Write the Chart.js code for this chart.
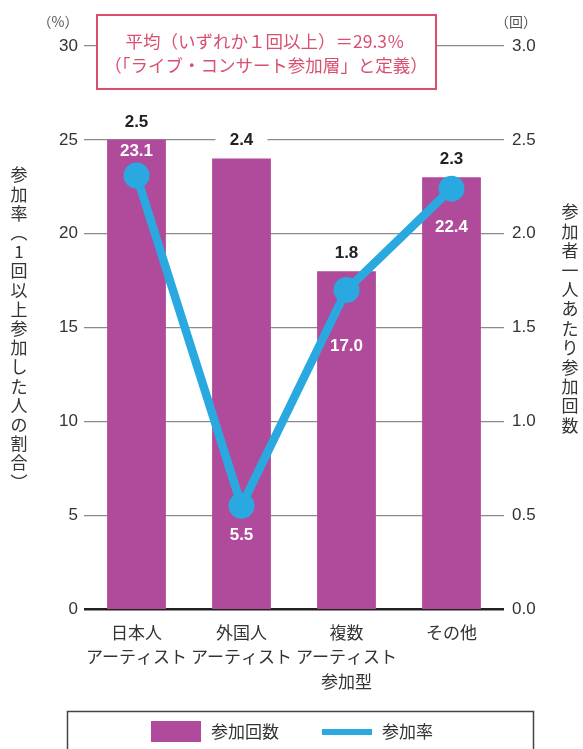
<!DOCTYPE html>
<html>
<head>
<meta charset="utf-8">
<script src="https://cdn.jsdelivr.net/npm/chart.js@4"></script>
<style>
    html, body { margin: 0; padding: 0; background: #fff; }
    #wrap { width: 583px; height: 749px; position: relative; }
</style>
</head>
<body>
<div id="wrap"><canvas id="chart" width="583" height="749"></canvas></div>
<script>
// data
const categories = [['日本人', 'アーティスト'], ['外国人', 'アーティスト'], ['複数', 'アーティスト', '参加型'], ['その他']];
const countValues = [2.5, 2.4, 1.8, 2.3];      // 参加回数 (right axis, 回)
const rateValues = [23.1, 5.5, 17.0, 22.4];    // 参加率 (left axis, %)
const rateTicks = [0, 5, 10, 15, 20, 25, 30];
const countTicks = [0, 0.5, 1.0, 1.5, 2.0, 2.5, 3.0];
const noteLines = ['平均（いずれか１回以上）＝29.3％', '（「ライブ・コンサート参加層」と定義）'];
const leftTitle = '参加率（1回以上参加した人の割合）';
const rightTitle = '参加者一人あたり参加回数';

const PURPLE = '#b04a9a';
const BLUE = '#29a9e0';
const PINK = '#d9506f';
const TEXT = '#333';
const FONT = '"Liberation Sans", "Noto Sans CJK JP", sans-serif';
const JFONT = '"Noto Sans CJK JP", sans-serif';

// offsets for the white rate labels relative to each point
const rateLabelOffset = [-24, 30, 56, 39];

// Draw vertical Japanese text, one glyph per step
function drawVertical(ctx, text, x, y, step) {
    const vert = { '（': '︵', '）': '︶' };
    ctx.save();
    ctx.textAlign = 'center';
    ctx.textBaseline = 'middle';
    [...text].forEach((ch, i) => {
        ctx.fillText(vert[ch] || ch, x, y + i * step);
    });
    ctx.restore();
}

const decoPlugin = {
    id: 'deco',
    beforeDatasetsDraw(chart) {
        const ctx = chart.ctx;
        const meta = chart.getDatasetMeta(0);
        ctx.save();
        ctx.fillStyle = '#fff';
        meta.data.forEach(bar => {
            ctx.fillRect(bar.x - 26, bar.y - 30, 52, 24);
        });
        ctx.restore();
    },
    afterDraw(chart) {
        const ctx = chart.ctx;
        const barMeta = chart.getDatasetMeta(0);
        const lineMeta = chart.getDatasetMeta(1);

        // bar value labels
        ctx.save();
        ctx.font = 'bold 17px ' + FONT;
        ctx.fillStyle = '#222';
        ctx.textAlign = 'center';
        ctx.textBaseline = 'middle';
        barMeta.data.forEach((bar, i) => {
            ctx.fillText(countValues[i].toFixed(1), bar.x, bar.y - 18);
        });

        // rate labels
        ctx.fillStyle = '#fff';
        lineMeta.data.forEach((pt, i) => {
            ctx.fillText(rateValues[i].toFixed(1), pt.x, pt.y + rateLabelOffset[i]);
        });
        ctx.restore();

        // note box
        ctx.save();
        ctx.fillStyle = '#fff';
        ctx.fillRect(97, 15, 339, 74);
        ctx.strokeStyle = PINK;
        ctx.lineWidth = 2;
        ctx.strokeRect(97, 15, 339, 74);
        ctx.fillStyle = PINK;
        ctx.font = '17.5px ' + JFONT;
        ctx.textAlign = 'center';
        ctx.textBaseline = 'middle';
        ctx.fillText(noteLines[0], 265, 41);
        ctx.fillText(noteLines[1], 266, 65);
        ctx.restore();

        // units
        ctx.save();
        ctx.fillStyle = '#555';
        ctx.font = '14px ' + JFONT;
        ctx.textAlign = 'center';
        ctx.textBaseline = 'middle';
        ctx.fillText('（%）', 58, 22);
        ctx.fillText('（回）', 516, 22);
        ctx.restore();

        // axis titles
        ctx.save();
        ctx.fillStyle = TEXT;
        ctx.font = '17px ' + JFONT;
        drawVertical(ctx, leftTitle, 19, 175, 19.2);
        drawVertical(ctx, rightTitle, 570, 212, 19.4);
        ctx.restore();

        // legend
        ctx.save();
        ctx.strokeStyle = '#444';
        ctx.lineWidth = 1.5;
        ctx.beginPath();
        ctx.moveTo(67.5, 760);
        ctx.lineTo(67.5, 711.5);
        ctx.lineTo(533.5, 711.5);
        ctx.lineTo(533.5, 760);
        ctx.stroke();
        ctx.fillStyle = PURPLE;
        ctx.fillRect(151, 721, 50, 21);
        ctx.fillStyle = BLUE;
        ctx.fillRect(322, 729, 50, 6);
        ctx.fillStyle = TEXT;
        ctx.font = '17px ' + JFONT;
        ctx.textBaseline = 'middle';
        ctx.fillText('参加回数', 211, 732);
        ctx.fillText('参加率', 382, 732);
        ctx.restore();
    }
};

new Chart(document.getElementById('chart'), {
    type: 'bar',
    data: {
        labels: categories,
        datasets: [
            {
                type: 'bar',
                label: '参加回数',
                data: countValues,
                yAxisID: 'y2',
                backgroundColor: PURPLE,
                borderWidth: 0,
                categoryPercentage: 1,
                barPercentage: 0.56,
                order: 1
            },
            {
                type: 'line',
                label: '参加率',
                data: rateValues,
                yAxisID: 'y',
                borderColor: BLUE,
                borderWidth: 8.5,
                backgroundColor: BLUE,
                pointRadius: 13,
                pointBackgroundColor: BLUE,
                pointBorderWidth: 0,
                tension: 0,
                order: 0
            }
        ]
    },
    options: {
        responsive: false,
        animation: false,
        devicePixelRatio: 1,
        layout: { padding: { top: 46, left: 0, right: 0, bottom: 0 } },
        plugins: {
            legend: { display: false },
            tooltip: { enabled: false }
        },
        scales: {
            x: {
                grid: { display: false },
                border: { display: false },
                ticks: {
                    color: TEXT,
                    padding: 3,
                    maxRotation: 0,
                    autoSkip: false,
                    font: { family: JFONT, size: 17, lineHeight: 1.45 }
                },
                afterFit: function(scale) { scale.height = 140; }
            },
            y: {
                position: 'left',
                min: 0,
                max: 30,
                afterBuildTicks: function(scale) {
                    scale.ticks = rateTicks.map(v => ({ value: v }));
                },
                ticks: {
                    color: TEXT,
                    padding: 6,
                    font: { family: FONT, size: 17 }
                },
                grid: {
                    drawTicks: false,
                    color: ctx => ctx.tick && ctx.tick.value === 0 ? '#222' : '#8a8a8a',
                    lineWidth: ctx => ctx.tick && ctx.tick.value === 0 ? 2.6 : 1.3
                },
                border: { display: false },
                afterFit: function(scale) { scale.width = 84; }
            },
            y2: {
                position: 'right',
                min: 0,
                max: 3,
                afterBuildTicks: function(scale) {
                    scale.ticks = countTicks.map(v => ({ value: v }));
                },
                ticks: {
                    color: TEXT,
                    padding: 8,
                    font: { family: FONT, size: 17 },
                    callback: v => Number(v).toFixed(1)
                },
                grid: { display: false, drawTicks: false },
                border: { display: false },
                afterFit: function(scale) { scale.width = 79; }
            }
        }
    },
    plugins: [decoPlugin]
});
</script>
</body>
</html>
